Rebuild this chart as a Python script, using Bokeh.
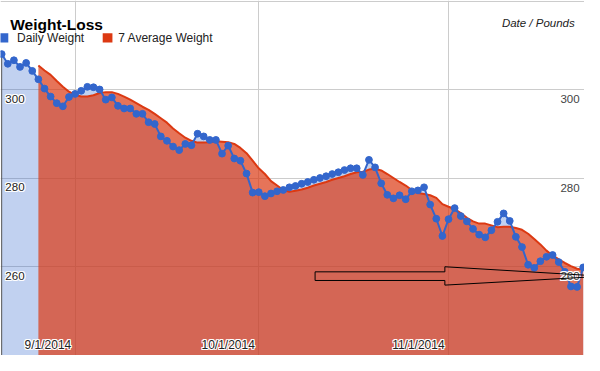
import datetime as dt
from bokeh.plotting import figure
from bokeh.models import Range1d, FixedTicker, ColumnDataSource, Label, BoxAnnotation
from bokeh.embed import file_html
from bokeh.resources import INLINE
from bokeh.core.properties import value

# ---------------- data ----------------
start_date = dt.datetime(2014, 8, 20)

daily_weight = [
    308.1, 305.9, 306.7, 305.2, 306.1, 304.3, 302.4, 300.3, 298.5, 297.0,
    296.3, 298.4, 299.1, 299.8, 300.7, 300.6, 300.1, 297.8, 298.3, 296.4,
    295.8, 295.8, 294.6, 294.6, 292.7, 292.3, 289.5, 288.5, 287.2, 286.4,
    287.8, 287.5, 290.1, 289.5, 288.7, 288.7, 285.6, 287.4, 284.5, 284.0,
    281.1, 276.8, 276.9, 276.0, 276.6, 277.1, 277.4, 278.0, 278.3, 278.8,
    279.2, 279.7, 280.1, 280.5, 281.0, 281.4, 281.9, 282.3, 282.3, 280.8,
    284.2, 282.5, 278.9, 276.3, 275.5, 276.2, 275.3, 277.1, 277.3, 278.0,
    274.1, 270.9, 267.0, 270.8, 273.3, 271.5, 270.3, 268.6, 267.3, 266.7,
    268.3, 270.2, 272.1, 270.4, 266.8, 264.5, 260.5, 259.8, 261.3, 262.3,
    262.7, 261.1, 258.9, 255.6, 255.5, 259.9,
]

avg_start_index = 6
avg_weight = [
    305.5, 304.4, 303.4, 302.0, 300.7, 299.6, 298.9, 298.5, 298.5, 298.8,
    299.3, 299.5, 299.5, 299.1, 298.5, 297.8, 297.0, 296.2, 295.5, 294.6,
    293.6, 292.6, 291.3, 290.2, 289.2, 288.5, 288.1, 288.1, 288.2, 288.4,
    288.3, 288.2, 287.8, 286.9, 285.7, 284.0, 282.3, 281.0, 279.4, 278.4,
    277.4, 277.0, 277.2, 277.5, 277.9, 278.4, 278.8, 279.2, 279.7, 280.1,
    280.5, 281.0, 281.4, 281.5, 282.0, 282.2, 281.8, 281.0, 280.1, 279.2,
    278.4, 277.4, 276.7, 276.5, 276.2, 275.6, 274.2, 273.6, 273.1, 272.2,
    271.1, 270.3, 269.8, 269.8, 269.4, 269.0, 269.1, 269.1, 268.8, 268.4,
    267.5, 266.3, 265.1, 263.7, 262.6, 261.7, 260.9, 260.2, 259.6, 259.4,
]

series_names = ["Daily Weight", "7 Average Weight"]
series_colors = ["#3366cc", "#dc3912"]

x_tick_dates = [dt.datetime(2014, 9, 1), dt.datetime(2014, 10, 1), dt.datetime(2014, 11, 1)]
x_tick_labels = ["9/1/2014", "10/1/2014", "11/1/2014"]
y_ticks = [260, 280, 300]
y_tick_labels = ["260", "280", "300"]
y_grid = [240, 260, 280, 300, 320]

# annotation arrow (day offset from start_date, weight)
arrow_day = [51.2, 72.4, 72.4, 98.2, 72.4, 72.4, 51.2]
arrow_weight = [258.9, 258.9, 260.05, 257.9, 255.9, 256.95, 256.95]

# ---------------- layout ----------------
W, H = 584, 355
SX, SY = W / 600.0, H / 371.0
Y_MIN, Y_MAX = 240, 320.2
FONT = "Liberation Sans"

dates = [start_date + dt.timedelta(days=i) for i in range(len(daily_weight))]
avg_dates = dates[avg_start_index:avg_start_index + len(avg_weight)]
x_start = start_date - dt.timedelta(days=0.19)
x_end = start_date + dt.timedelta(days=95.21)

def ms(d):
    return (d - dt.datetime(1970, 1, 1)).total_seconds() * 1000.0

p = figure(width=W, height=H, x_axis_type="datetime",
           x_range=Range1d(ms(x_start), ms(x_end)),
           y_range=Range1d(Y_MIN, Y_MAX),
           output_backend="svg", toolbar_location=None, min_border=0)
p.xaxis.visible = False
p.yaxis.visible = False
p.outline_line_color = None
p.background_fill_color = "white"
p.border_fill_color = "white"
p.xgrid.ticker = FixedTicker(ticks=[ms(d) for d in x_tick_dates])
p.ygrid.ticker = FixedTicker(ticks=y_grid)
for g in (p.xgrid, p.ygrid):
    g.grid_line_color = "#cccccc"
    g.grid_line_width = 1

src_daily = ColumnDataSource(dict(x=dates, y=daily_weight, base=[Y_MIN] * len(dates)))
src_avg = ColumnDataSource(dict(x=avg_dates, y=avg_weight, base=[Y_MIN] * len(avg_dates)))

p.varea(x="x", y1="base", y2="y", source=src_daily, fill_color=series_colors[0], fill_alpha=0.3)
p.varea(x="x", y1="base", y2="y", source=src_avg, fill_color=series_colors[1], fill_alpha=0.7)
# dark left edge of the daily area
p.segment(x0=[dates[0]], y0=[Y_MIN], x1=[dates[0]], y1=[daily_weight[0]],
          line_color="#555555", line_width=1)
p.line(x="x", y="y", source=src_avg, line_color=series_colors[1], line_width=2)
p.line(x="x", y="y", source=src_daily, line_color=series_colors[0], line_width=2)
p.scatter(x="x", y="y", source=src_daily, size=6.8, fill_color=series_colors[0],
          line_color=series_colors[0])

# ---------------- tick labels (inside, with white halo) ----------------
HALO = [(-1, -1), (0, -1), (1, -1), (-1, 0), (1, 0), (-1, 1), (0, 1), (1, 1)]

def halo_text(src, align, xo, yo, size, color):
    for dx, dy in HALO:
        p.text(x="x", y="y", text="text", source=src, text_align=align, text_baseline="middle",
               x_offset=xo + dx, y_offset=yo + dy, text_color="white",
               text_font=value(FONT), text_font_size=size)
    p.text(x="x", y="y", text="text", source=src, text_align=align, text_baseline="middle",
           x_offset=xo, y_offset=yo, text_color=color,
           text_font=value(FONT), text_font_size=size)

src_yl = ColumnDataSource(dict(x=[x_start] * len(y_ticks), y=y_ticks, text=y_tick_labels))
src_yr = ColumnDataSource(dict(x=[x_end] * len(y_ticks), y=y_ticks, text=y_tick_labels))
src_x = ColumnDataSource(dict(x=x_tick_dates, y=[Y_MIN] * len(x_tick_dates), text=x_tick_labels))

halo_text(src_yl, "left", 5 * SX, 9.4 * SY, "11.5px", "#222222")
halo_text(src_yr, "right", -5 * SX, 9.6 * SY, "11.5px", "#444444")
halo_text(src_x, "right", -4 * SX, -11 * SY, "12px", "#222222")

# ---------------- arrow annotation ----------------
p.patch(x=[start_date + dt.timedelta(days=d) for d in arrow_day], y=arrow_weight,
        fill_alpha=0, line_color="black", line_width=1)

# ---------------- legend (swatches + labels) ----------------
legend_swatch_left = [-2, 105]
legend_text_left = [17, 121]
for name, color, sl, tl in zip(series_names, series_colors, legend_swatch_left, legend_text_left):
    p.add_layout(BoxAnnotation(left=sl * SX, right=(sl + 10) * SX,
                               bottom=H - 44 * SY, top=H - 34.3 * SY,
                               left_units="screen", right_units="screen",
                               top_units="screen", bottom_units="screen",
                               fill_color=color, fill_alpha=1.0, line_color=None))
    p.add_layout(Label(x=tl * SX, y=H - 39.2 * SY, x_units="screen", y_units="screen", text=name,
                       text_font=FONT, text_font_size="12px", text_baseline="middle",
                       text_color="#222222"))

# ---------------- title texts ----------------
p.add_layout(Label(x=10 * SX, y=H - 25 * SY, x_units="screen", y_units="screen", text="Weight-Loss",
                   text_font=FONT, text_font_style="bold", text_font_size="15.5px",
                   text_baseline="alphabetic", text_color="#000000"))
p.add_layout(Label(x=590 * SX, y=H - 24 * SY, x_units="screen", y_units="screen", text="Date / Pounds",
                   text_font=FONT, text_font_style="italic", text_font_size="11.5px",
                   text_align="right", text_baseline="alphabetic", text_color="#222222"))

open("out.html", "w").write(file_html(p, INLINE))
